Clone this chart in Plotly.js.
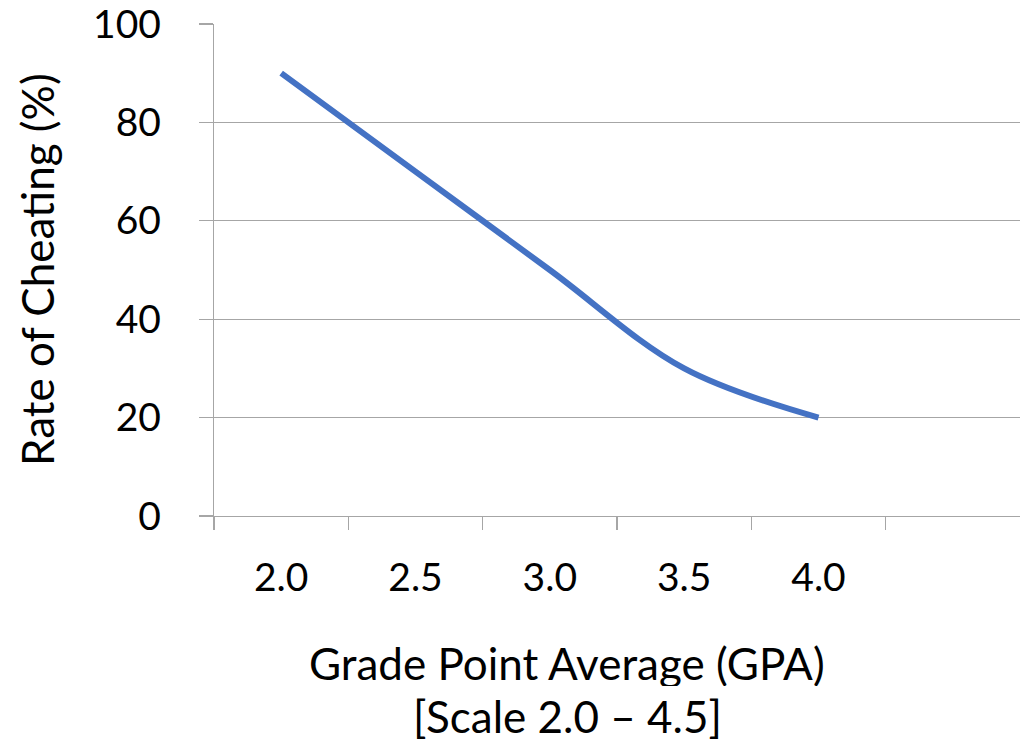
<!DOCTYPE html>
<html>
<head>
<meta charset="utf-8">
<script src="https://cdn.plot.ly/plotly-3.0.1.min.js"></script>
<style>html,body{margin:0;padding:0;background:#fff;}#chart{width:1020px;height:741px;}</style>
</head>
<body>
<div id="chart"></div>
<script>
const gpaLabels = ['2.0', '2.5', '3.0', '3.5', '4.0'];
const cheatingRate = [90, 70, 50, 30, 20];
const yTicks = [0, 20, 40, 60, 80, 100];
const xTitleLines = ['Grade Point Average (GPA)', '[Scale 2.0 \u2013 4.5]'];
const yTitle = 'Rate of Cheating (%)';

const font = 'Lato, "Open Sans", sans-serif';
const grey = '#a6a6a6';
const tickSize = 39;
const titleSize = 44;

const trace = {
  x: gpaLabels,
  y: cheatingRate,
  type: 'scatter',
  mode: 'lines',
  line: {color: '#4472C4', width: 6, shape: 'spline', smoothing: 1},
  hoverinfo: 'x+y'
};

const layout = {
  width: 1020, height: 741,
  margin: {l: 214, r: 0, t: 24, b: 225},
  paper_bgcolor: '#fff', plot_bgcolor: '#fff',
  showlegend: false,
  font: {family: font, color: '#000', size: tickSize},
  xaxis: {
    type: 'category',
    categoryorder: 'array', categoryarray: gpaLabels,
    range: [-0.5, 5.5],
    tickson: 'boundaries',
    ticks: 'outside', ticklen: 13, tickcolor: grey, tickwidth: 1.3,
    showgrid: false, zeroline: false,
    showline: true, linecolor: grey, linewidth: 1.3,
    tickfont: {family: font, size: tickSize, color: '#000'},
    ticklabelstandoff: 27,
    ticklabeloverflow: 'allow',
    fixedrange: true
  },
  yaxis: {
    range: [0, 100],
    tickvals: yTicks,
    ticks: 'outside', ticklen: 14, tickcolor: grey, tickwidth: 1.3,
    showgrid: true, gridcolor: grey, gridwidth: 1.3,
    zeroline: false,
    showline: true, linecolor: grey, linewidth: 1.3,
    tickfont: {family: font, size: tickSize, color: '#000'},
    ticklabelstandoff: 30,
    ticklabeloverflow: 'allow',
    fixedrange: true
  },
  annotations: [
    {text: xTitleLines[0], xref: 'paper', yref: 'paper', x: (567 - 214) / 806, y: -(663 - 516) / 492,
     xanchor: 'center', yanchor: 'middle', height: 46, showarrow: false, font: {family: font, size: titleSize, color: '#000'}},
    {text: xTitleLines[1], xref: 'paper', yref: 'paper', x: (567 - 214) / 806, y: -(716 - 516) / 492,
     xanchor: 'center', yanchor: 'middle', height: 46, showarrow: false, font: {family: font, size: titleSize, color: '#000'}},
    {text: yTitle, xref: 'paper', yref: 'paper', x: (37 - 214) / 806, y: (516 - 270) / 492,
     xanchor: 'center', yanchor: 'middle', textangle: -90, showarrow: false, font: {family: font, size: titleSize, color: '#000'}}
  ]
};

Plotly.newPlot('chart', [trace], layout, {displayModeBar: false, staticPlot: true});
</script>
</body>
</html>
